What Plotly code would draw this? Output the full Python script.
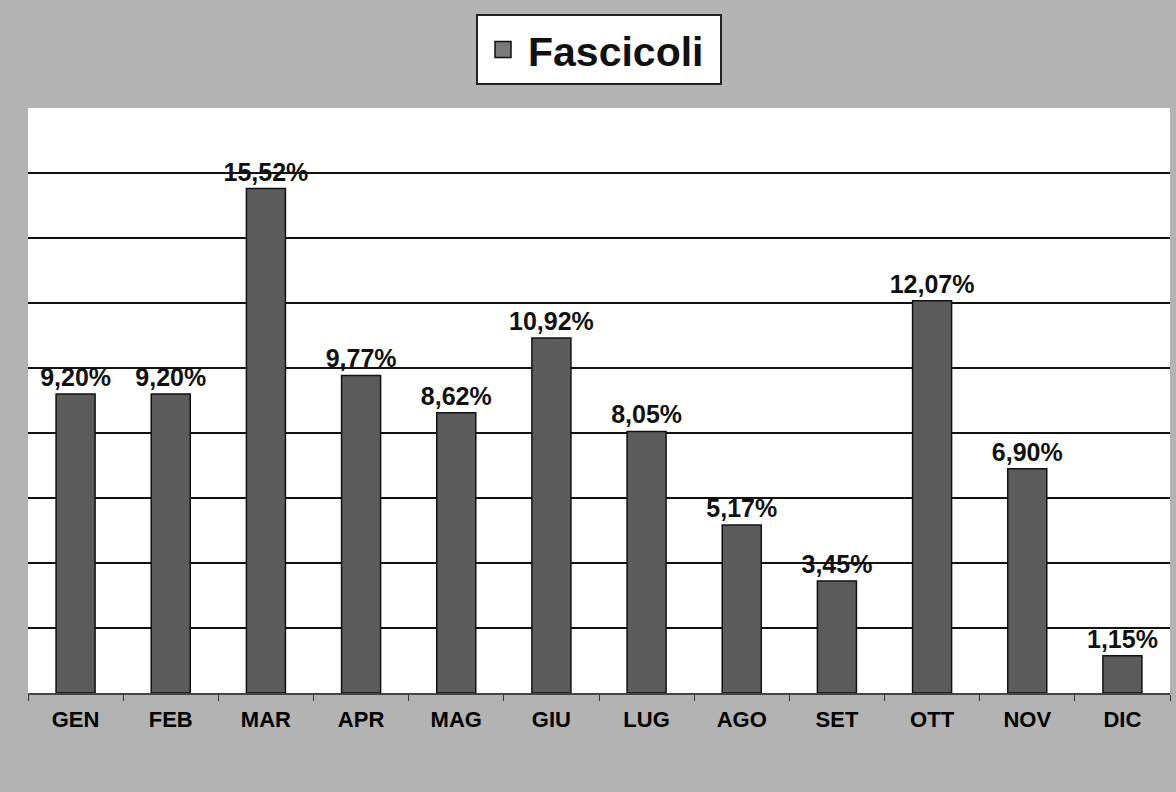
import plotly.graph_objects as go

months = ["GEN", "FEB", "MAR", "APR", "MAG", "GIU", "LUG", "AGO", "SET", "OTT", "NOV", "DIC"]
fascicoli = [9.20, 9.20, 15.52, 9.77, 8.62, 10.92, 8.05, 5.17, 3.45, 12.07, 6.90, 1.15]
series_name = "Fascicoli"

labels = [f"{v:.2f}%".replace(".", ",") for v in fascicoli]

fig = go.Figure()
fig.add_trace(go.Bar(
    x=months, y=fascicoli, text=labels, textposition="outside",
    texttemplate="<b>%{text}</b>", constraintext="none",
    textfont=dict(family="Liberation Sans", size=25, color="#111111"),
    marker=dict(color="#5c5c5c", line=dict(color="#111111", width=1.5)),
    cliponaxis=False, showlegend=False, name=series_name,
))
# legend entry
fig.add_trace(go.Scatter(
    x=[None], y=[None], mode="markers", name=f"<b>{series_name}</b>&nbsp;",
    marker=dict(symbol="square", size=20, color="#7a7a7a", line=dict(color="#111111", width=1.5)),
))

fig.update_layout(
    width=1176, height=792,
    margin=dict(l=28, r=6, t=108, b=99),
    paper_bgcolor="#b3b3b3", plot_bgcolor="#ffffff",
    bargap=0.59,
    showlegend=True,
    legend=dict(
        x=0.5, xanchor="center", y=1.16, yanchor="top",
        bgcolor="#ffffff", bordercolor="#222222", borderwidth=2,
        font=dict(family="Liberation Sans", size=41, color="#111111"),
        itemsizing="trace", itemwidth=40,
    ),
    font=dict(family="Liberation Sans"),
)
fig.update_xaxes(
    showline=True, linecolor="#444444", linewidth=1.5,
    ticks="outside", ticklen=6, tickcolor="#333333", tickson="boundaries",
    tickfont=dict(family="Liberation Sans", size=22, color="#000000"),
    ticklabelstandoff=6,
    showgrid=False,
    tickmode="array", tickvals=months, ticktext=[f"<b>{m}</b>" for m in months],
)
fig.update_yaxes(
    range=[0, 18], tickmode="array", tickvals=[2, 4, 6, 8, 10, 12, 14, 16],
    showticklabels=False, showgrid=True, gridcolor="#111111", gridwidth=2,
    zeroline=False,
)

fig.write_html("out.html", config={"displayModeBar": False},
               post_script="document.body.style.margin='0';")
